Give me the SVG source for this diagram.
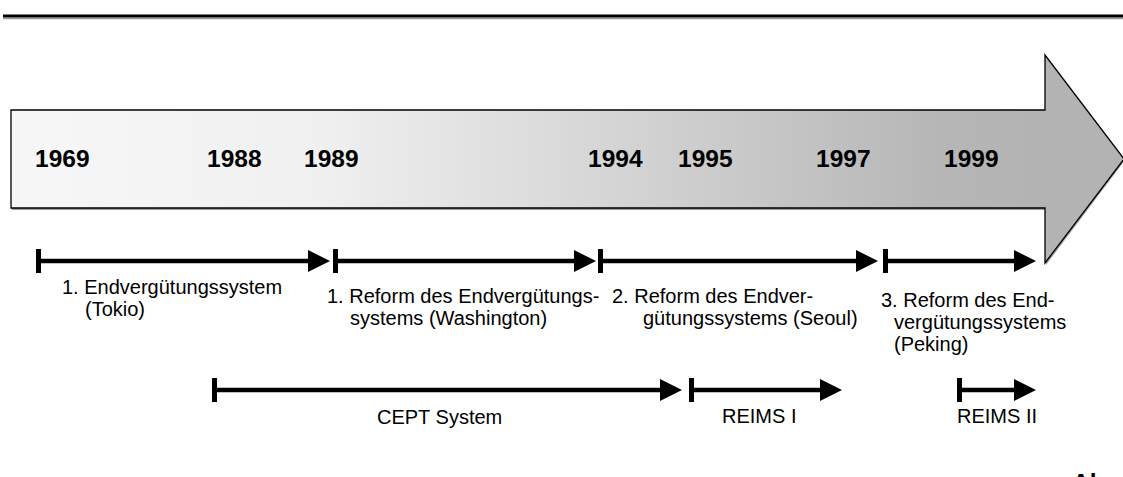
<svg xmlns="http://www.w3.org/2000/svg" width="1123" height="477" viewBox="0 0 1123 477">
<defs>
<linearGradient id="bodyGrad" gradientUnits="userSpaceOnUse" x1="11" y1="0" x2="1045" y2="0">
<stop offset="0" stop-color="#f7f7f7"/>
<stop offset="0.3" stop-color="#f0f0f0"/>
<stop offset="0.55" stop-color="#d8d8d8"/>
<stop offset="0.9" stop-color="#b6b6b6"/>
<stop offset="1" stop-color="#b3b3b3"/>
</linearGradient>
<marker id="head" markerUnits="userSpaceOnUse" markerWidth="22" markerHeight="22" refX="4" refY="11" orient="auto" overflow="visible">
<path d="M0,0 L22,11 L0,22 Z" fill="#000"/>
</marker>
<marker id="bar" markerUnits="userSpaceOnUse" markerWidth="6" markerHeight="24" refX="0" refY="12" orient="auto" overflow="visible">
<rect x="0" y="0" width="5" height="24" fill="#000"/>
</marker>
</defs>
<style>
.year{font-family:"Liberation Sans",Arial,sans-serif;font-weight:bold;font-size:24.5px;fill:#000}
.lbl{font-family:"Liberation Sans",Arial,sans-serif;font-size:20px;fill:#000}
.span{stroke:#000;stroke-width:4.5;fill:none;marker-start:url(#bar);marker-end:url(#head)}
</style>
<rect width="1123" height="477" fill="#fff"/>
<g id="topline">
<line x1="3" y1="18.5" x2="1123" y2="18.5" stroke="#9a9a9a" stroke-width="1.5"/>
<line x1="3" y1="16" x2="1123" y2="16" stroke="#000" stroke-width="3"/>
</g>
<g id="timeline-arrow">
<path d="M12,111.5 H1046 V57 L1125,160 L1046,265 V210 H12 Z" fill="#9a9a9a"/>
<path d="M11,110 H1045 V55 L1124,159 L1045,263 V208 H11 Z" fill="url(#bodyGrad)" stroke="#000" stroke-width="1.3"/>
</g>
<g id="years">
<text class="year" x="35" y="167">1969</text>
<text class="year" x="207" y="167">1988</text>
<text class="year" x="304" y="167">1989</text>
<text class="year" x="588" y="167">1994</text>
<text class="year" x="678" y="167">1995</text>
<text class="year" x="816" y="167">1997</text>
<text class="year" x="944" y="167">1999</text>
</g>
<g id="connectors">
<line class="span" x1="36" y1="261" x2="312" y2="261"/>
<line class="span" x1="333" y1="261" x2="578" y2="261"/>
<line class="span" x1="598" y1="261" x2="860" y2="261"/>
<line class="span" x1="883" y1="261" x2="1018" y2="261"/>
<line class="span" x1="212" y1="390" x2="664" y2="390"/>
<line class="span" x1="689" y1="390" x2="824" y2="390"/>
<line class="span" x1="957" y1="390" x2="1018" y2="390"/>
</g>
<g id="label-tokio">
<text class="lbl" x="62" y="294">1. Endvergütungssystem</text>
<text class="lbl" x="85" y="316">(Tokio)</text>
</g>
<g id="label-washington">
<text class="lbl" x="327" y="303">1. Reform des Endvergütungs-</text>
<text class="lbl" x="350" y="325">systems (Washington)</text>
</g>
<g id="label-seoul">
<text class="lbl" x="612" y="303">2. Reform des Endver-</text>
<text class="lbl" x="643" y="325">gütungssystems (Seoul)</text>
</g>
<g id="label-peking">
<text class="lbl" x="881" y="307">3. Reform des End-</text>
<text class="lbl" x="894" y="329">vergütungssystems</text>
<text class="lbl" x="894" y="351">(Peking)</text>
</g>
<g id="label-cept">
<text class="lbl" x="377" y="424">CEPT System</text>
</g>
<g id="label-reims1">
<text class="lbl" x="722" y="423">REIMS I</text>
</g>
<g id="label-reims2">
<text class="lbl" x="957" y="423">REIMS II</text>
</g>
<g id="footer">
<text class="year" x="1072" y="491">Ab</text>
</g>
</svg>
